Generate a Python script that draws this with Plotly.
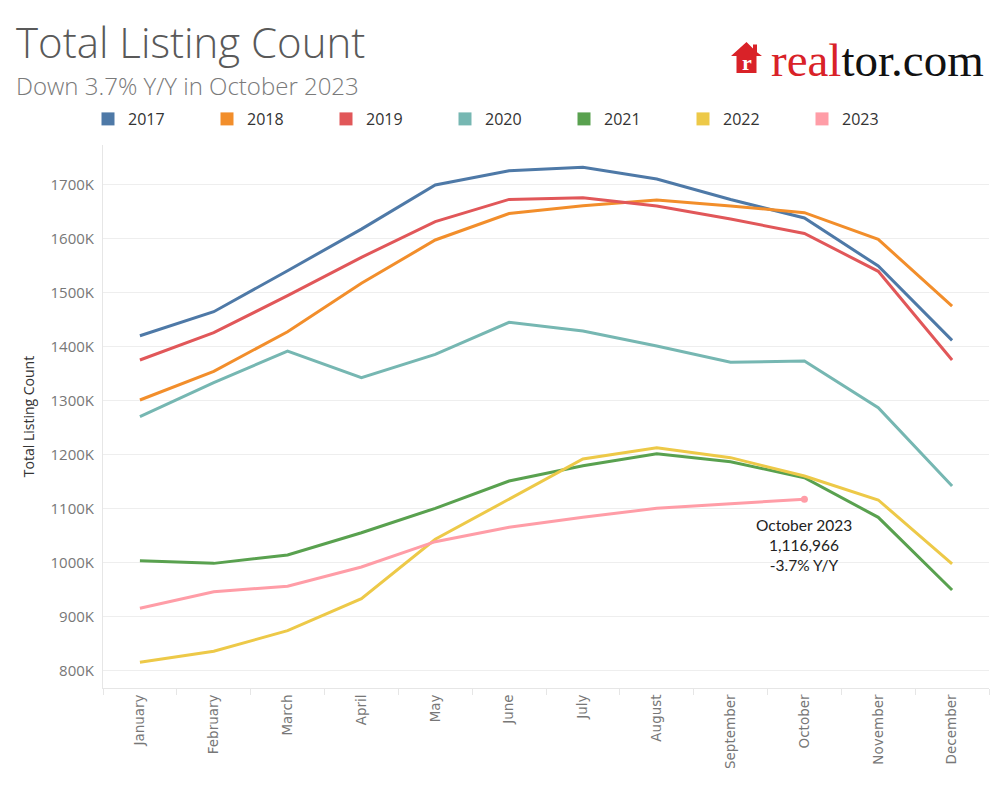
import plotly.graph_objects as go

months = ["January", "February", "March", "April", "May", "June", "July",
          "August", "September", "October", "November", "December"]

years = ["2017", "2018", "2019", "2020", "2021", "2022", "2023"]

v2017 = [1419600, 1464000, 1540000, 1617000, 1698700, 1725000, 1731500, 1709800, 1672000, 1637600, 1548700, 1411000]
v2018 = [1300600, 1353700, 1427000, 1516700, 1596900, 1646000, 1660400, 1671000, 1659800, 1647400, 1598000, 1474600]
v2019 = [1374600, 1425200, 1493700, 1564800, 1630800, 1672000, 1675200, 1659800, 1635700, 1609000, 1538900, 1374600]
v2020 = [1269600, 1332600, 1391300, 1341900, 1385000, 1444400, 1428300, 1400600, 1370400, 1372800, 1286300, 1141300]
v2021 = [1002900, 998000, 1013500, 1054800, 1100000, 1150600, 1178900, 1201100, 1186300, 1156700, 1083300, 948700]
v2022 = [814800, 835200, 873400, 932600, 1042600, 1116700, 1191300, 1212300, 1193800, 1159900, 1115400, 996900]
v2023 = [914800, 945600, 955500, 991300, 1038200, 1064800, 1083300, 1100000, 1108500, 1116966]

series = [v2017, v2018, v2019, v2020, v2021, v2022, v2023]
colors = ["#4e79a7", "#f28e2b", "#e15759", "#76b7b2", "#59a14f", "#edc948", "#ff9da7"]

y_tickvals = [800000, 900000, 1000000, 1100000, 1200000, 1300000, 1400000, 1500000, 1600000, 1700000]
y_ticktext = ["800K", "900K", "1000K", "1100K", "1200K", "1300K", "1400K", "1500K", "1600K", "1700K"]

callout_month = "October"
callout_lines = ["October 2023", "1,116,966", "-3.7% Y/Y"]

fig = go.Figure()

for name, vals, col in zip(years, series, colors):
    fig.add_trace(go.Scatter(
        x=months[:len(vals)], y=vals, mode="lines", name=name,
        line=dict(color=col, width=3), showlegend=False, hoverinfo="skip"))
    # legend entry as a colored square
    fig.add_trace(go.Scatter(
        x=[None], y=[None], mode="markers", name=name,
        marker=dict(symbol="square", size=13, color=col), showlegend=True))

# end-point dot for 2023
fig.add_trace(go.Scatter(
    x=[months[len(v2023) - 1]], y=[v2023[-1]], mode="markers",
    marker=dict(color=colors[-1], size=7), showlegend=False, hoverinfo="skip"))

fig.add_annotation(
    x=callout_month, y=v2023[-1], xref="x", yref="y",
    text="<br>".join(callout_lines), showarrow=False,
    yanchor="top", xanchor="center", yshift=-15,
    font=dict(family="Lato, Open Sans, sans-serif", size=15.5, color="#222222"),
    align="center")

# page body margin offset (8px) compensated
OFF = 8
W, H = 1000 - OFF, 800 - OFF
L, R, T, B = 103 - OFF, 11, 145 - OFF, 112
pw, ph = W - L - R, H - T - B

def px(xt):
    return (xt - OFF - L) / pw

def py(yt):
    return (H - B - (yt - OFF)) / ph

fig.add_annotation(
    x=px(14), y=py(42), xref="paper", yref="paper", xanchor="left", yanchor="middle",
    text="Total Listing Count", showarrow=False,
    font=dict(family="Open Sans, sans-serif", size=42, color="#595959", weight=300))
fig.add_annotation(
    x=px(14), y=py(85), xref="paper", yref="paper", xanchor="left", yanchor="middle",
    text="Down 3.7% Y/Y in October 2023", showarrow=False,
    font=dict(family="Open Sans, sans-serif", size=24, color="#7a7a7a", weight=300))

# realtor.com logo
fig.add_annotation(
    x=px(769), y=py(60), xref="paper", yref="paper", xanchor="left", yanchor="middle",
    text="<span style='color:#d92228'>real</span><span style='color:#111111'>tor.com</span>",
    showarrow=False,
    font=dict(family="Liberation Serif, DejaVu Serif, serif", size=47, color="#111111"))
house = ("M {a},{e} L {p},{pk} L {c1},{ct} L {c1},{ctop} L {c2},{ctop} L {c2},{cb} "
         "L {b},{e} L {bx2},{e} L {bx2},{bot} L {bx1},{bot} L {bx1},{e} Z").format(
    a=px(731), e=py(56), p=px(746.5), pk=py(42), b=px(762),
    c1=px(753), ct=py(48.6), ctop=py(44.5), c2=px(757), cb=py(52.3),
    bx1=px(736.5), bx2=px(756.5), bot=py(73))
fig.add_shape(type="path", path=house, xref="paper", yref="paper",
              fillcolor="#d92228", line=dict(width=0))
fig.add_annotation(
    x=px(746.5), y=py(63), xref="paper", yref="paper", xanchor="center", yanchor="middle",
    text="<b>r</b>", showarrow=False,
    font=dict(family="Liberation Serif, serif", size=22, color="white"))

fig.update_layout(
    width=W, height=H,
    margin=dict(l=L, r=R, t=T, b=B, autoexpand=False),
    paper_bgcolor="white", plot_bgcolor="white",
    font=dict(family="Open Sans, sans-serif", color="#666666"),
    legend=dict(orientation="h", x=px(88), y=py(119), xanchor="left", yanchor="middle",
                xref="paper", yref="paper",
                entrywidth=74, entrywidthmode="pixels", itemwidth=30,
                font=dict(family="Open Sans, sans-serif", size=16, color="#333333"),
                bgcolor="rgba(0,0,0,0)"),
    xaxis=dict(type="category", categoryorder="array", categoryarray=months,
               tickangle=-90, tickfont=dict(family="DejaVu Sans, sans-serif", size=13.5, color="#777777"),
               showgrid=False, showline=True, linecolor="#e6e6e6", linewidth=1,
               ticks="outside", tickson="boundaries", ticklen=6, tickcolor="#e6e6e6",
               range=[-0.5, 11.5], fixedrange=True),
    yaxis=dict(range=[767200, 1772800], tickvals=y_tickvals, ticktext=y_ticktext,
               tickfont=dict(size=15, color="#777777"), ticklabelstandoff=5,
               showgrid=True, gridcolor="#eeeeee", gridwidth=1,
               zeroline=False, showline=True, linecolor="#e6e6e6", linewidth=1,
               ticks="",
               title=dict(text="Total Listing Count", standoff=12,
                          font=dict(size=14, color="#333333"))),
)

fig.write_html("out.html")
